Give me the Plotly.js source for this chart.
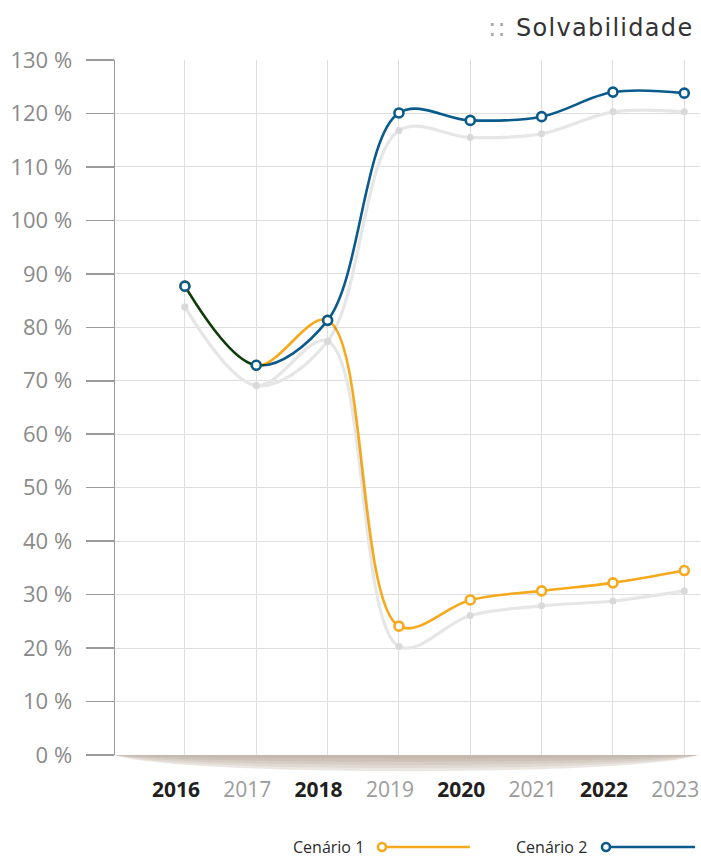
<!DOCTYPE html>
<html>
<head>
<meta charset="utf-8">
<script src="https://cdn.plot.ly/plotly-3.0.1.min.js"></script>
<style>
html,body{margin:0;padding:0;background:#fff;}
#chart{width:701px;height:857px;}
</style>
</head>
<body>
<div id="chart"></div>
<script>
// ---- data ----
const years = [2016, 2017, 2018, 2019, 2020, 2021, 2022, 2023];
const yearLabelStrong = [true, false, true, false, true, false, true, false];
const greyUpper = [83.8, 69.1, 77.4, 116.8, 115.5, 116.2, 120.3, 120.3];
const greyLower = [83.8, 69.1, 77.4, 20.3, 26.1, 27.9, 28.8, 30.7];
const cenario1 = [87.7, 72.9, 81.3, 24.1, 29.0, 30.7, 32.2, 34.5];
const cenario2 = [87.7, 72.9, 81.3, 120.1, 118.7, 119.4, 124.0, 123.8];
const seriesNames = ['Cenário 1', 'Cenário 2'];
const yTicks = [0, 10, 20, 30, 40, 50, 60, 70, 80, 90, 100, 110, 120, 130];
const yTickLabels = yTicks.map(v => v + ' %');
const chartTitle = 'Solvabilidade';

const ORANGE = '#f7a81b';
const BLUE = '#0a5b8c';
const GREY_LINE = '#e6e6e6';
const GREY_MARK = '#d9d9d9';

const tickText = years.map((y, i) => yearLabelStrong[i]
  ? '<b><span style="color:#231f20">' + y + '</span></b>'
  : '<span style="color:#9b9b9b">' + y + '</span>');

function greyTrace(vals) {
  return {
    x: years, y: vals, type: 'scatter', mode: 'lines+markers',
    line: {color: GREY_LINE, width: 3.2, shape: 'spline', smoothing: 1},
    marker: {color: GREY_MARK, size: 7},
    hoverinfo: 'skip', showlegend: false
  };
}
function mainTrace(vals, color, name) {
  return {
    x: years, y: vals, type: 'scatter', mode: 'lines+markers', name: name,
    line: {color: color, width: 2.6, shape: 'spline', smoothing: 1},
    marker: {color: '#ffffff', size: 9, line: {color: color, width: 2.6}},
    hoverinfo: 'skip', showlegend: false
  };
}

const data = [
  greyTrace(greyUpper),
  greyTrace(greyLower),
  mainTrace(cenario1, ORANGE, seriesNames[0]),
  mainTrace(cenario2, BLUE, seriesNames[1])
];

// shadow under the plot (decoration)
const shadowFills = [
  {d: -0.031, c: '#ebe6e1'},
  {d: -0.025, c: '#e0d9d2'},
  {d: -0.019, c: '#d6cdc5'},
  {d: -0.013, c: '#cdc2b8'},
  {d: -0.007, c: '#c5b9ad'}
];
const shapes = shadowFills.map(s => ({
  type: 'path', xref: 'paper', yref: 'paper', layer: 'above',
  path: 'M 0,0 L 0.996,0 C 0.9,' + s.d + ' 0.1,' + s.d + ' 0,0 Z',
  fillcolor: s.c, line: {width: 0}
}));

// legend samples (decoration)
const legendItems = [
  {name: seriesNames[0], color: ORANGE, tx: 0.429, mx: 0.4564, lx: 0.6068},
  {name: seriesNames[1], color: BLUE, tx: 0.810, mx: 0.8393, lx: 0.9915}
];
const LY = -0.1324;
const annotations = [];
legendItems.forEach(it => {
  shapes.push({type: 'line', xref: 'paper', yref: 'paper', x0: it.mx, x1: it.lx, y0: LY, y1: LY,
    line: {color: it.color, width: 2.6}});
  shapes.push({type: 'circle', xref: 'paper', yref: 'paper', xsizemode: 'pixel', ysizemode: 'pixel',
    xanchor: it.mx, yanchor: LY, x0: -4, x1: 4, y0: -4, y1: 4,
    fillcolor: '#ffffff', line: {color: it.color, width: 2.6}});
  annotations.push({xref: 'paper', yref: 'paper', x: it.tx, y: LY, xanchor: 'right', yanchor: 'middle',
    showarrow: false, text: it.name, font: {family: 'Open Sans', size: 16, color: '#2b2b2b'}});
});
annotations.push({xref: 'paper', yref: 'paper', x: 0.9915, y: 1.046, xanchor: 'right', yanchor: 'middle',
  showarrow: false, text: '<span style="color:#a5a5a5">::</span> ' + chartTitle,
  font: {family: 'DejaVu Sans', size: 24, color: '#333333'}});

const layout = {
  width: 701, height: 857,
  margin: {l: 115, r: 1, t: 60, b: 102},
  paper_bgcolor: '#ffffff', plot_bgcolor: '#ffffff',
  showlegend: false,
  xaxis: {
    type: 'linear', range: [2015.02, 2023.22],
    tickvals: years, ticktext: tickText,
    showgrid: true, gridcolor: '#dedede', gridwidth: 1,
    zeroline: false, showline: false, ticks: '',
    ticklabelstandoff: 20, ticklabelshift: -9, ticklabeloverflow: 'allow',
    tickfont: {family: 'Open Sans', size: 21, color: '#231f20'},
    fixedrange: true
  },
  yaxis: {
    range: [0, 130], tickvals: yTicks, ticktext: yTickLabels,
    showgrid: true, gridcolor: '#dedede', gridwidth: 1,
    zeroline: false, showline: true, linecolor: '#9a9a9a', linewidth: 1.5,
    ticks: 'outside', ticklen: 28, tickcolor: '#9a9a9a', tickwidth: 1.5,
    ticklabelstandoff: 9,
    tickfont: {family: 'Open Sans', size: 22, color: '#8a8a8a'},
    fixedrange: true
  },
  shapes: shapes,
  annotations: annotations
};

Plotly.newPlot('chart', data, layout, {displayModeBar: false, staticPlot: true}).then(gd => {
  const traces = gd.querySelectorAll('.scatterlayer .trace');
  [2, 3].forEach(i => {
    if (traces[i]) {
      const ln = traces[i].querySelector('path.js-line');
      if (ln) ln.style.mixBlendMode = 'multiply';
    }
  });
  // title letter spacing, keep right edge in place
  gd.querySelectorAll('.annotation-text').forEach(t => {
    if (t.textContent.indexOf(chartTitle) >= 0) {
      const before = t.getBBox();
      const right = before.x + before.width;
      t.style.letterSpacing = '1.3px';
      const after = t.getBBox();
      const shift = right - (after.x + after.width);
      const tr = t.getAttribute('transform') || '';
      t.setAttribute('transform', tr + ' translate(' + shift + ',0)');
    }
  });
});
</script>
</body>
</html>
